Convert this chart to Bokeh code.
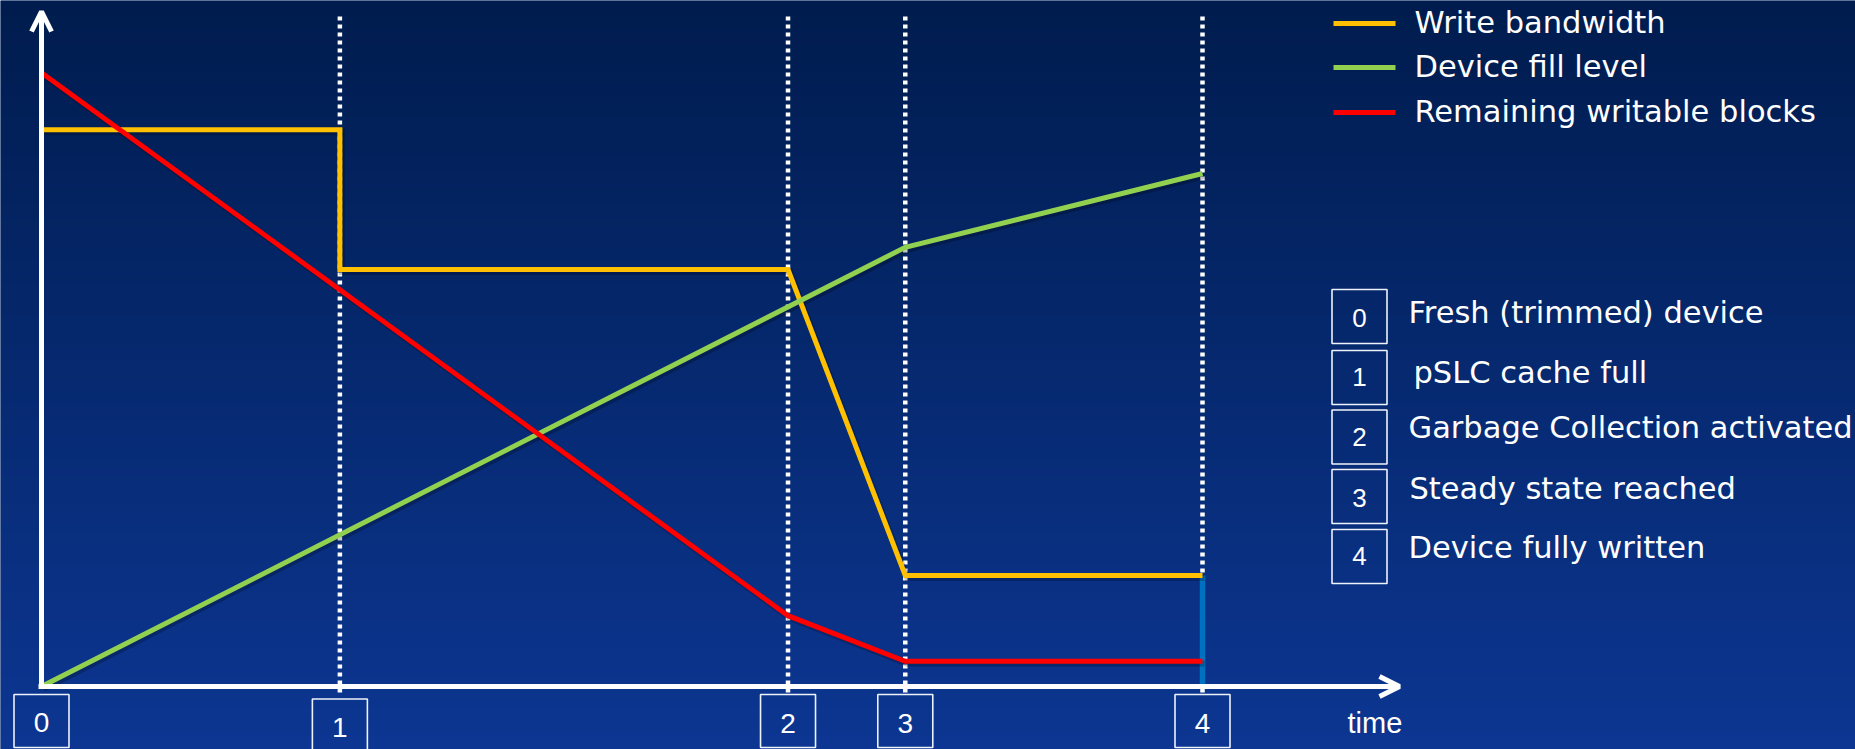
import numpy as np
from bokeh.plotting import figure
from bokeh.models import Range1d, Arrow, OpenHead
from bokeh.embed import file_html
from bokeh.resources import INLINE
from bokeh.core.properties import value

# ---- data -------------------------------------------------------------
# phases of a sustained write workload (time in arbitrary units, 100 = device full)
event_ids = ["0", "1", "2", "3", "4"]
event_times = [0, 25.7, 64.3, 74.4, 100]
event_labels = [
    "Fresh (trimmed) device",
    "pSLC cache full",
    "Garbage Collection activated",
    "Steady state reached",
    "Device fully written",
]

# write bandwidth (step down when the pSLC cache is full, ramp down under GC)
bw_t = [0, 25.7, 25.7, 64.3, 74.4, 100]
bw_v = [92.8, 92.8, 69.5, 69.5, 18.5, 18.5]

# device fill level
fill_t = [0, 74.4, 100]
fill_v = [0, 73.2, 85.5]

# remaining writable blocks
blocks_t = [0, 64.3, 74.4, 100]
blocks_v = [102.3, 11.8, 4.2, 4.2]

series_names = ["Write bandwidth", "Device fill level", "Remaining writable blocks"]
series_colors = ["#FFC000", "#92D050", "#FF0000"]

# ---- page geometry ----------------------------------------------------
W, H = 1855, 749
X0_PX, Y0_PX = 41, 686      # canvas pixel of the origin
SX, SY = 11.61, 6.0         # pixels per data unit


def dx(px):
    return (px - X0_PX) / SX


def dy(py):
    return (Y0_PX - py) / SY


p = figure(
    width=W, height=H,
    x_range=Range1d(dx(0), dx(W)), y_range=Range1d(dy(H), dy(0)),
    output_backend="svg", toolbar_location=None,
    x_axis_location=None, y_axis_location=None,
    min_border=0, outline_line_color=None,
)
p.xgrid.visible = False
p.ygrid.visible = False

# vertical navy gradient background
n = 749
top = np.array([0, 28, 78], dtype=float)
bottom = np.array([12, 54, 146], dtype=float)
frac = np.linspace(0, 1, n)[:, None]
cols = bottom * (1 - frac) + top * frac
img = np.empty((n, 2), dtype=np.uint32)
view = img.view(dtype=np.uint8).reshape((n, 2, 4))
view[:, :, 0] = cols[:, 0:1].round()
view[:, :, 1] = cols[:, 1:2].round()
view[:, :, 2] = cols[:, 2:3].round()
view[:, :, 3] = 255
p.image_rgba(image=[img], x=dx(0), y=dy(H), dw=dx(W) - dx(0), dh=dy(0) - dy(H))
p.background_fill_color = "#062a6a"
p.border_fill_color = "#062a6a"

# dotted event markers
p.segment(x0=event_times[1:], y0=dy(692), x1=event_times[1:], y1=dy(14),
          line_color="white", line_width=4.5, line_dash="4 4")

# end-of-device marker
p.segment(x0=[event_times[-1]], y0=[0], x1=[event_times[-1]], y1=[bw_v[-1]],
          line_color="#0070C0", line_width=5.5)

# subtle drop shadows under the curves
sh_x, sh_y = 2.0 / SX, -2.5 / SY
for t, v in [(bw_t, bw_v), (fill_t, fill_v), (blocks_t, blocks_v)]:
    p.line([a + sh_x for a in t], [b + sh_y for b in v], line_color="black",
           line_alpha=0.22, line_width=6, line_join="miter")

# curves
for (t, v), c in zip([(bw_t, bw_v), (fill_t, fill_v), (blocks_t, blocks_v)], series_colors):
    p.line(t, v, line_color=c, line_width=5, line_join="miter")

# axes as arrows
p.add_layout(Arrow(end=OpenHead(size=20, line_color="white", line_width=5),
                   x_start=0, y_start=0, x_end=0, y_end=dy(11),
                   line_color="white", line_width=5))
p.add_layout(Arrow(end=OpenHead(size=20, line_color="white", line_width=5),
                   x_start=dx(38), y_start=0, x_end=dx(1399), y_end=0,
                   line_color="white", line_width=5))

# numbered boxes along the time axis
box_y = [dy(720.5), dy(725), dy(720.5), dy(720.5), dy(720.5)]
digit_y = [dy(722), dy(727), dy(723), dy(723), dy(723)]
p.rect(x=event_times, y=box_y, width=55, height=53, width_units="screen",
       height_units="screen", fill_alpha=0, line_color="#eef2fa", line_width=1.6)
p.text(x=event_times, y=digit_y, text=event_ids,
       text_font=value("Liberation Sans"), text_font_size="28px",
       text_color="white", text_align="center", text_baseline="middle")

p.text(x=[dx(1347)], y=[dy(722)], text=["time"], text_font=value("Liberation Sans"),
       text_font_size="29px", text_color="white", text_baseline="middle")

# series key (top right)
key_y = [23, 67, 112]
key_text_y = [21.5, 66, 111]
p.segment(x0=[dx(1333)] * 3, y0=[dy(v) for v in key_y], x1=[dx(1395)] * 3,
          y1=[dy(v) for v in key_y], line_color=series_colors, line_width=5)
p.text(x=[dx(1414)] * 3, y=[dy(v) for v in key_text_y], text=series_names,
       text_font=value("DejaVu Sans"), text_font_size="30.5px",
       text_color="white", text_baseline="middle")

# event key (right)
ev_box_y = [316, 377, 436.5, 496, 556]
ev_digit_y = [317.5, 376, 436.5, 497, 555.5]
p.rect(x=[dx(1359)] * 5, y=[dy(v) for v in ev_box_y], width=55, height=54,
       width_units="screen", height_units="screen", fill_alpha=0,
       line_color="#eef2fa", line_width=1.6)
p.text(x=[dx(1359)] * 5, y=[dy(v) for v in ev_digit_y], text=event_ids,
       text_font=value("Liberation Sans"), text_font_size="26px",
       text_color="white", text_align="center", text_baseline="middle")
ev_lab_x = [1408, 1413, 1408, 1409, 1408]
ev_lab_y = [311.5, 372, 426.5, 487.5, 546.5]
p.text(x=[dx(v) for v in ev_lab_x], y=[dy(v) for v in ev_lab_y], text=event_labels,
       text_font=value("DejaVu Sans"), text_font_size="30.5px",
       text_color="white", text_baseline="middle")

open("out.html", "w").write(file_html(p, INLINE))
